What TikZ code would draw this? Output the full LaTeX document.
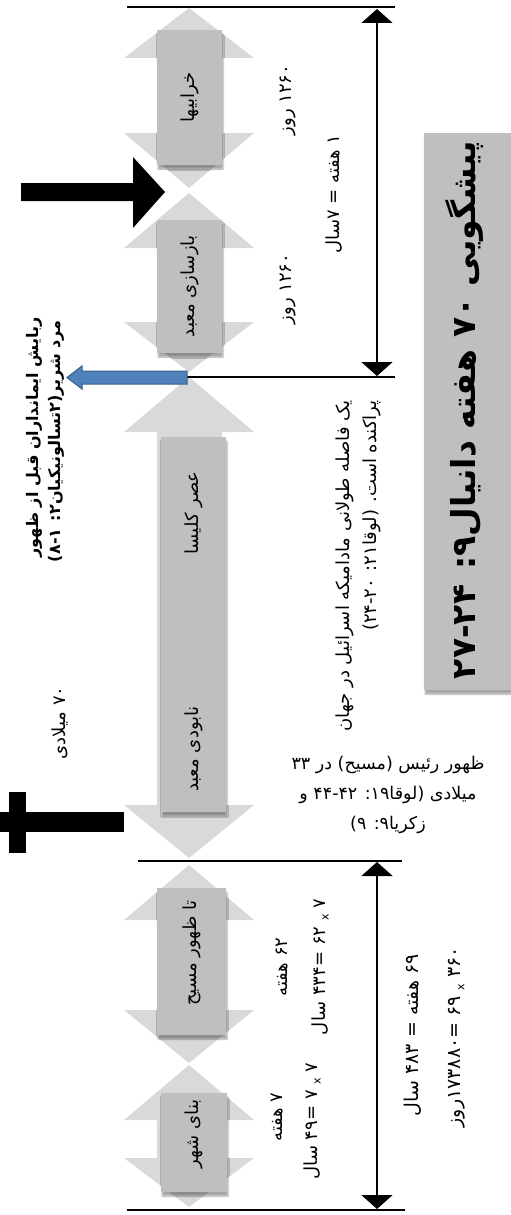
\documentclass[tikz,border=0pt]{standalone}
\usepackage{fontspec}
\usepackage{graphicx}
\newfontfamily\farsi[Script=Arabic]{DejaVu Sans}
\TeXXeTstate=1
\usetikzlibrary{arrows.meta,shadows.blur}
\definecolor{shaftgray}{HTML}{D9D9D9}
\definecolor{boxgray}{HTML}{BFBFBF}
\definecolor{raptureblue}{HTML}{4F81BD}
\definecolor{raptureedge}{HTML}{385D8A}
\newcommand\fa[1]{{\farsi\beginR #1\endR}}
\newcommand\tms{\raisebox{-.35ex}{\fontsize{11}{11}\selectfont x}}
\newcommand\rng[2]{#1\kern0pt-\kern0pt#2}
\begin{document}
\begin{tikzpicture}[x=1pt,y=-1pt,
    every node/.style={inner sep=0pt,font=\farsi\fontsize{18}{20}\selectfont},
    segbox/.style={fill=boxgray,blur shadow={shadow xshift=1pt,shadow yshift=-4pt,shadow opacity=35}},
    vtext/.style={rotate=90},
    dimline/.style={line width=1.6pt},
    dimarrow/.style={line width=1.6pt,{Triangle[width=31pt,length=14pt]}-{Triangle[width=31pt,length=14pt]}}]
    \useasboundingbox (0,0) rectangle (511,1215);
    % light double arrows behind the boxes
    \foreach \ta/\tb/\ba/\bb in {8/58/133/188,193/248/322/372,377/432/805/858,865/920/1010/1063,1065/1120/1158/1207}
        \fill[shaftgray] (189,\ta) -- (254,\tb) -- (222,\tb) -- (222,\ba) -- (254,\ba) -- (189,\bb)
            -- (124,\ba) -- (157,\ba) -- (157,\tb) -- (124,\tb) -- cycle;
    % periods
    \node[segbox,minimum width=65,minimum height=135] (ruins) at (189.5,97.5) {};
    \node[vtext] at (ruins) {\fa{خرابیها}};
    \node[segbox,minimum width=65,minimum height=133] (rebuild) at (189.5,286.5) {};
    \node[vtext] at (rebuild) {\fa{بازسازی معبد}};
    \node[segbox,minimum width=65,minimum height=375] (church) at (193.5,624.5) {};
    \node[vtext] at (193.5,513) {\fa{عصر کلیسا}};
    \node[vtext] at (193.5,749) {\fa{نابودی معبد}};
    \node[segbox,minimum width=69,minimum height=147] (messiah) at (191.5,961.5) {};
    \node[vtext] at (191.5,953) {\fa{تا ظهور مسیح}};
    \node[segbox,minimum width=66,minimum height=99] (city) at (194,1142.5) {};
    \node[vtext] at (194,1134) {\fa{بنای شهر}};
    % dimension lines
    \coordinate (gap) at (187,377);
    \draw[dimline] (127,7) -- (395,7);
    \draw[dimline] (gap) -- (395,377);
    \draw[dimline] (138,861) -- (402,861);
    \draw[dimline] (127,1210) -- (405,1210);
    \draw[dimarrow] (377,9) -- (377,376);
    \draw[dimarrow] (377,862) -- (377,1209);
    % markers
    \fill (21,183) -- (133,183) -- (133,157) -- (165,192) -- (133,228) -- (133,201) -- (21,201) -- cycle;
    \fill (9,792) rectangle (26,853);
    \fill (0,812) rectangle (124,832);
    \filldraw[fill=raptureblue,draw=raptureedge,line width=1pt] (gap) ++(0,-6) -- (82,371) -- (82,366)
        -- (67,377.5) -- (82,389) -- (82,384) -- (187,384) -- cycle;
    % labels
    \node[vtext] at (288,100) {\fa{۱۲۶۰ روز}};
    \node[vtext] at (334,194) {\fa{۱ هفته = ۷سال}};
    \node[vtext] at (288,289) {\fa{۱۲۶۰ روز}};
    \node[vtext,anchor=east] at (345,400) {\fa{یک فاصله طولانی مادامیکه اسرائیل در جهان}};
    \node[vtext,anchor=east] at (372,400) {\fa{پراکنده است. (لوقا۲۱: \rng{۲۰}{۲۴)}}};
    \node[vtext,anchor=east,font=\farsi\bfseries\fontsize{16}{18}\selectfont] at (34,317) {\fa{ربایش ایمانداران قبل از ظهور}};
    \node[vtext,anchor=east,font=\farsi\bfseries\fontsize{16}{18}\selectfont] at (56,320) {\fa{مرد شریر(۲تسالونیکیان۲: \rng{۱}{۸)}}};
    \node[vtext] at (60,723) {\fa{۷۰ میلادی}};
    \node[align=center,font=\farsi\fontsize{17.5}{30}\selectfont] at (388,795)
        {\fa{ظهور رئیس (مسیح) در ۳۳}\\\fa{میلادی (لوقا۱۹: \rng{۴۲}{۴۴} و}\\\fa{زکریا۹: ۹)}};
    \node[vtext] at (282,967) {\fa{۶۲ هفته}};
    \node[vtext] at (320,967) {\fa{۷ \tms{} ۶۲ =۴۳۴ سال}};
    \node[vtext] at (277,1117) {\fa{۷ هفته}};
    \node[vtext] at (312,1121) {\fa{۷ \tms{} ۷ =۴۹ سال}};
    \node[vtext,font=\farsi\fontsize{19}{21}\selectfont] at (413,1035) {\fa{۶۹ هفته = ۴۸۳ سال}};
    \node[vtext,font=\farsi\fontsize{19}{21}\selectfont] at (457,1037) {\fa{۳۶۰ \tms{} ۶۹ =۱۷۳۸۸۰روز}};
    % title
    \node[segbox,minimum width=87,minimum height=557] (title) at (467.5,411.5) {};
    \node[vtext,font=\farsi\bfseries\fontsize{33}{36}\selectfont] at (465,410) {\fa{پیشگویی ۷۰ هفته دانیال۹: \rng{۲۴}{۲۷}}};
\end{tikzpicture}
\end{document}
